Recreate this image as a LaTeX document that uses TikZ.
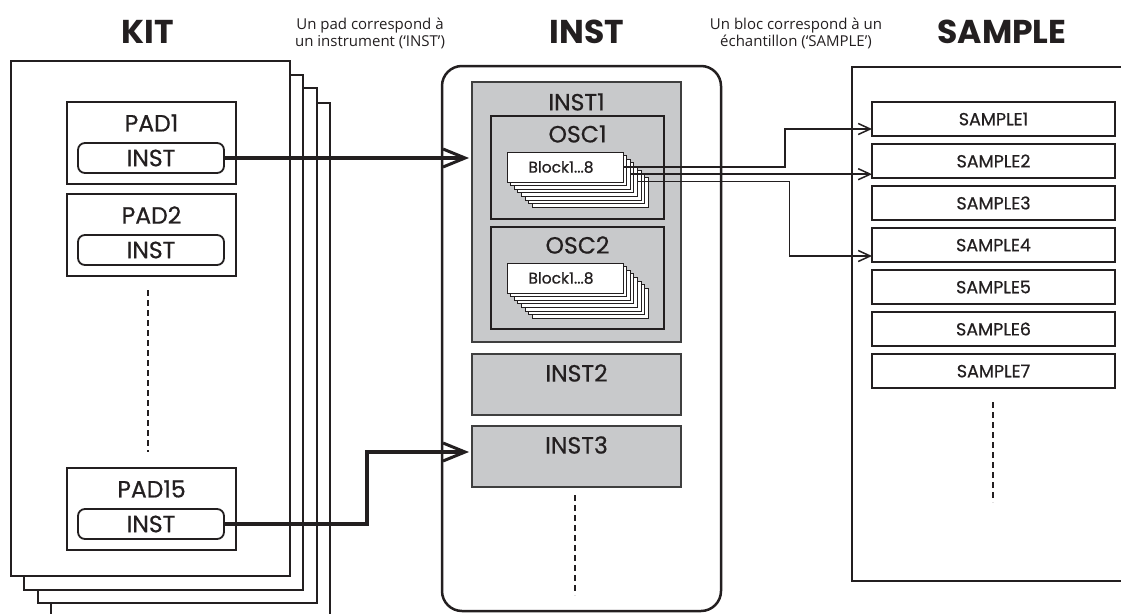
\documentclass[tikz,border=0pt]{standalone}
\usepackage{fontspec}
\setmainfont{Poppins}
\newfontfamily\labelfont{Poppins}[FakeBold=0.6]
\newfontfamily\capfont{Open Sans}
\usetikzlibrary{arrows.meta}
\definecolor{ink}{HTML}{231F20}
\definecolor{grayfill}{HTML}{C8C9CB}
\definecolor{grayline}{HTML}{3F3F3F}
\begin{document}
\begin{tikzpicture}[x=1pt,y=-1pt,
  every node/.style={inner sep=0pt, outer sep=0pt},
  sheet/.style={draw=ink, line width=2.5pt, fill=white, minimum width=279pt, minimum height=515pt},
  padbox/.style={draw=ink, line width=1.8pt, fill=white, minimum width=169pt, minimum height=82pt},
  instbtn/.style={draw=ink, line width=1.8pt, rounded corners=7pt, fill=white, minimum width=146pt, minimum height=30pt, font=\labelfont\fontsize{23.5}{23.5}\selectfont, text=ink},
  lbl/.style={font=\labelfont\fontsize{23.5}{23.5}\selectfont, text=ink},
  title/.style={font=\bfseries\fontsize{33}{33}\selectfont, text=ink},
  caption/.style={font=\capfont\fontsize{15}{17}\selectfont, align=center, text=ink},
  instframe/.style={draw=ink, line width=2.5pt, rounded corners=20pt, fill=white, minimum width=279pt, minimum height=545pt},
  graybox/.style={draw=grayline, line width=1.6pt, fill=grayfill, minimum width=209pt},
  oscbox/.style={draw=ink, line width=1.6pt, fill=grayfill, minimum width=173pt},
  blockbox/.style={draw=ink, line width=1pt, fill=white, minimum width=116pt, minimum height=30pt},
  blocktext/.style={font=\labelfont\fontsize{15.5}{15.5}\selectfont, text=ink},
  samplebox/.style={draw=ink, line width=1.6pt, fill=white, minimum width=243pt, minimum height=34pt, font=\labelfont\fontsize{17.5}{17.5}\selectfont, text=ink},
  dotline/.style={draw=ink, line width=1.2pt, dash pattern=on 6pt off 4pt},
  thickarrow/.style={draw=ink, line width=4pt, -{Straight Barb[length=22pt, width=18pt, line width=3pt]}},
  thinarrow/.style={draw=ink, line width=1.5pt, -{Straight Barb[length=12pt, width=11pt, line width=1.5pt]}}
]
\useasboundingbox (0,0) rectangle (1121,613);

% titles and captions
\node[title] (tkit) at (148,32) {KIT};
\node[title] (tinst) at (587,32) {INST};
\node[title] (tsample) at (1002,32) {SAMPLE};
\node[caption] (cap1) at (370,33) {Un pad correspond à\\un instrument (‘INST’)};
\node[caption] (cap2) at (796,33) {Un bloc correspond à un\\échantillon (‘SAMPLE’)};

% KIT stack
\node[sheet] (kit4) at (190.5,360.5) {};
\node[sheet] (kit3) at (177.5,345.5) {};
\node[sheet] (kit2) at (163.5,332.5) {};
\node[sheet] (kit) at (150.5,318.5) {};

\node[padbox] (pad1) at (151.5,143) {};
\node[lbl] (pad1l) at (151.5,123) {PAD1};
\node[instbtn] (insta) at (151,158) {INST};
\node[padbox] (pad2) at (151.5,235) {};
\node[lbl] (pad2l) at (151.5,215) {PAD2};
\node[instbtn] (instb) at (151,250) {INST};
\node[padbox] (pad15) at (151.5,509) {};
\node[lbl] (pad15l) at (151.5,489) {PAD15};
\node[instbtn] (instc) at (151,524) {INST};
\coordinate (kd1) at (148,290);
\coordinate (kd2) at (148,452);
\draw[dotline] (kd1) -- (kd2);

% INST column
\node[instframe] (instf) at (581.5,338.5) {};
\node[graybox, minimum height=260pt] (inst1) at (576.5,212) {};
\node[lbl] (inst1l) at (576.5,102) {INST1};
\node[oscbox, minimum height=103pt] (osc1) at (577.5,167.5) {};
\node[lbl] (osc1l) at (577.5,134) {OSC1};
\node[oscbox, minimum height=102pt] (osc2) at (577.5,278) {};
\node[lbl] (osc2l) at (577.5,245) {OSC2};
\foreach \k in {7,6,...,0} {
  \node[blockbox] (b1l\k) at (565+3.6*\k,167+3.6*\k) {};
  \node[blockbox] (b2l\k) at (565+3.6*\k,278+3.6*\k) {};
}
\node[blocktext] (b1t) at (561,167) {Block1...8};
\node[blocktext] (b2t) at (561,278) {Block1...8};
\node[graybox, minimum height=61pt] (inst2) at (576.5,384.5) {};
\node[lbl] (inst2l) at (576.5,373) {INST2};
\node[graybox, minimum height=61pt] (inst3) at (576.5,456.5) {};
\node[lbl] (inst3l) at (576.5,445) {INST3};
\coordinate (id1) at (575,495);
\coordinate (id2) at (575,595);
\draw[dotline] (id1) -- (id2);

% SAMPLE column
\node[draw=ink, line width=2.5pt, fill=white, minimum width=288pt, minimum height=514pt] (samp) at (996,324) {};
\foreach \k in {1,...,7} {
  \node[samplebox] (s\k) at (993.5,77+42*\k) {SAMPLE\k};
}
\coordinate (sd1) at (993,402);
\coordinate (sd2) at (993,502);
\draw[dotline] (sd1) -- (sd2);

% connectors
\draw[thickarrow] (insta.east) -- ([xshift=-3pt]insta.east -| inst1.west);
\draw[thickarrow] (instc.east) -- ++(143,0) |- ([xshift=-3pt,yshift=4.5pt]inst3.west);
\draw[thinarrow] (b1l0.east) -- ++(162,0) |- ([yshift=-10pt]s1.west);
\draw[thinarrow] (b1l2.east) -- (b1l2.east -| s2.west);
\draw[thinarrow] (b1l4.east) -- ++(152,0) |- ([yshift=-11pt]s4.west);
\end{tikzpicture}
\end{document}
